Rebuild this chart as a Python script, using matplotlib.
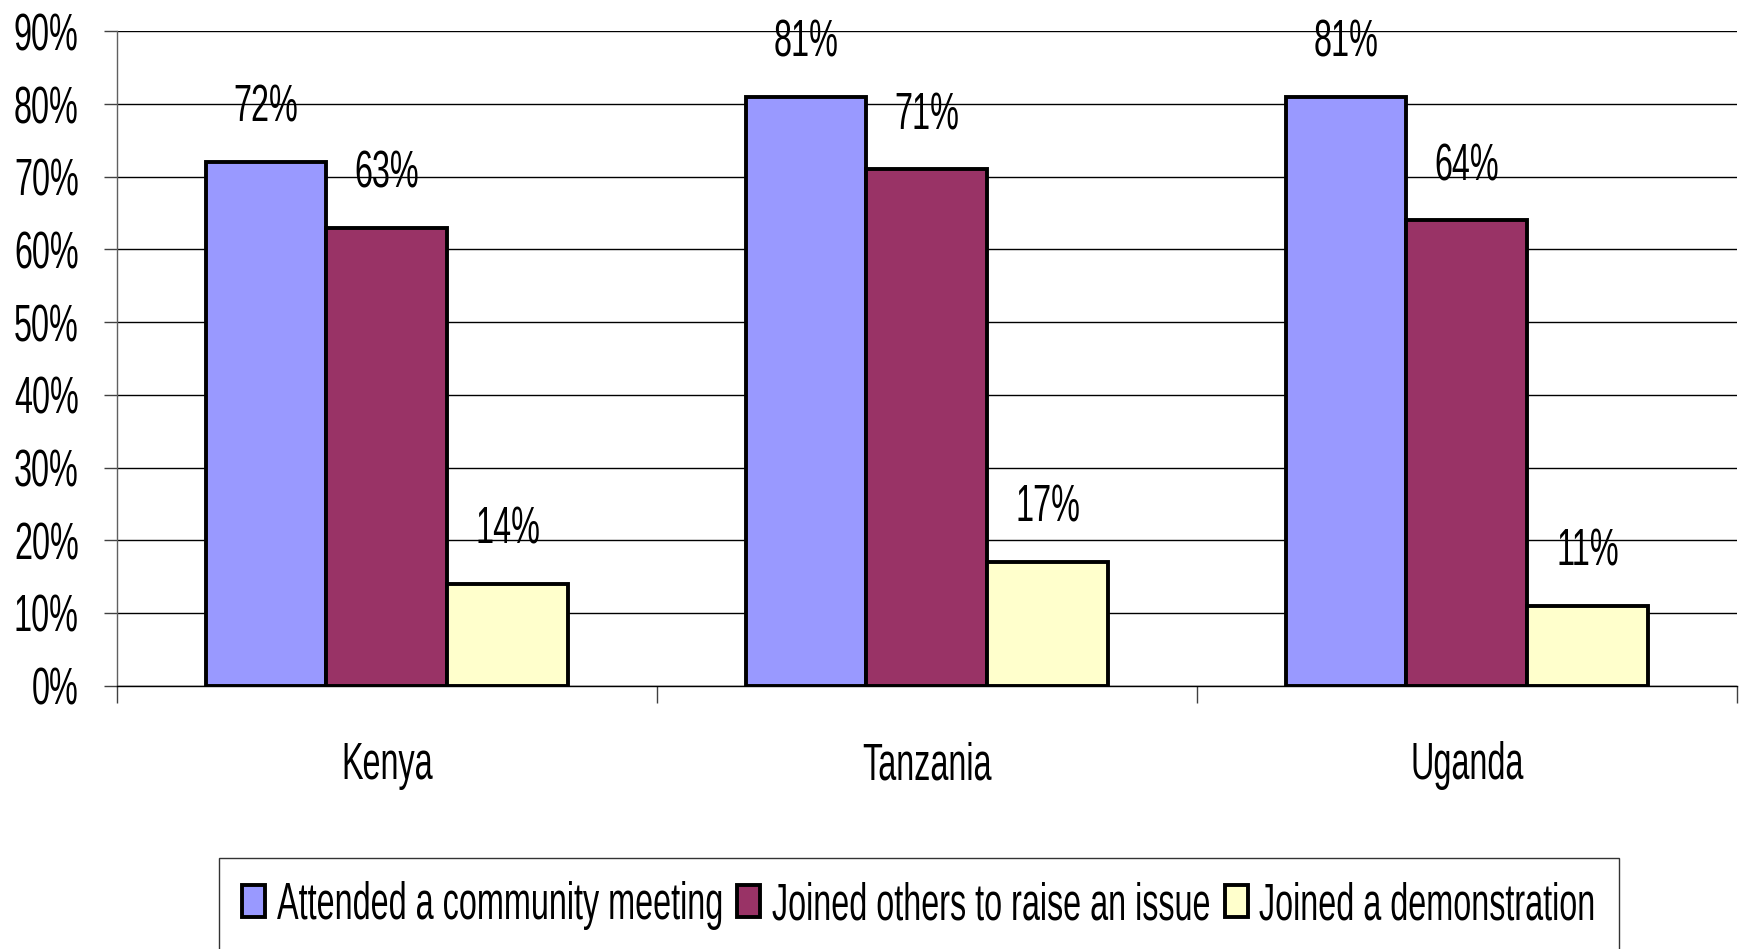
import numpy as np
import matplotlib
matplotlib.use("Agg")
import matplotlib.pyplot as plt
from matplotlib import font_manager
from matplotlib.ticker import FixedLocator, FuncFormatter
from fontTools.ttLib import TTFont

# Share of respondents by country and type of civic action
countries = ["Kenya", "Tanzania", "Uganda"]
series_names = ["Attended a community meeting",
                "Joined others to raise an issue",
                "Joined a demonstration"]
attended = [72, 81, 81]
joined_issue = [63, 71, 64]
demonstration = [14, 17, 11]
bar_colors = ["#9999FF", "#993366", "#FFFFCC"]


def make_narrow_font(squeeze=0.63, family="Liberation Sans Narrowed"):
    """Build a horizontally condensed copy of Liberation Sans and register it."""
    src = font_manager.findfont(font_manager.FontProperties(family="Liberation Sans"))
    f = TTFont(src)
    glyf, hmtx = f["glyf"], f["hmtx"]
    for name in f.getGlyphOrder():
        g = glyf[name]
        if g.isComposite():
            for comp in g.components:
                comp.x = round(comp.x * squeeze)
        elif g.numberOfContours > 0:
            g.coordinates.scale((squeeze, 1))
            g.coordinates.toInt()
        g.recalcBounds(glyf)
        adv, lsb = hmtx[name]
        new_lsb = g.xMin if g.numberOfContours != 0 else round(lsb * squeeze)
        hmtx[name] = (round(adv * squeeze), new_lsb)
    if "kern" in f:
        for sub in f["kern"].kernTables:
            for k in sub.kernTable:
                sub.kernTable[k] = round(sub.kernTable[k] * squeeze)
    names = f["name"]
    for rec in list(names.names):
        if rec.nameID in (1, 16):
            names.setName(family, rec.nameID, rec.platformID, rec.platEncID, rec.langID)
        elif rec.nameID == 4:
            names.setName(family + " Regular", rec.nameID, rec.platformID, rec.platEncID, rec.langID)
        elif rec.nameID == 6:
            names.setName(family.replace(" ", "") + "-Regular", rec.nameID,
                          rec.platformID, rec.platEncID, rec.langID)
    f.save("narrow.ttf")
    font_manager.fontManager.addfont("narrow.ttf")
    return family


plt.rcParams['font.family'] = [make_narrow_font(), 'DejaVu Sans']

fig = plt.figure(figsize=(17.48, 9.49), dpi=100)
ax = fig.add_axes([0.0669, 0.2775, 0.9268, 0.6895])

x = np.arange(len(countries))
width = 0.224
bars = []
for i, (vals, name, col) in enumerate(zip([attended, joined_issue, demonstration],
                                          series_names, bar_colors)):
    b = ax.bar(x + (i - 1) * width, np.array(vals) / 100, width,
               color=col, edgecolor="black", linewidth=2.8, label=name, zorder=3)
    bars.append(b)
    for rect, v in zip(b, vals):
        ax.annotate(f"{v}%", (rect.get_x() + rect.get_width() / 2, v / 100),
                    xytext=(0, 29), textcoords="offset points",
                    ha="center", va="baseline", fontsize=37, zorder=4)

# axes, grid and ticks
ax.set_ylim(0, 0.9)
ax.set_xlim(-0.5, 2.5)
ax.set_yticks(np.arange(0, 0.91, 0.1))
ax.yaxis.set_major_formatter(FuncFormatter(lambda v, p: f"{round(v * 100)}%"))
ax.tick_params(axis="y", length=9.5, width=1, color="#404040", pad=18, labelsize=37)
ax.grid(axis="y", color="black", linewidth=1.0, zorder=0)

ax.xaxis.set_major_locator(FixedLocator([-0.5, 0.5, 1.5, 2.5]))
ax.xaxis.set_major_formatter(FuncFormatter(lambda v, p: ""))
ax.xaxis.set_minor_locator(FixedLocator(x))
ax.set_xticklabels(countries, minor=True)
ax.tick_params(axis="x", which="major", length=12, width=1, color="#404040")
ax.tick_params(axis="x", which="minor", length=0, pad=40, labelsize=37)

for s in ["top", "right"]:
    ax.spines[s].set_visible(False)
ax.spines["left"].set_color("#606060")
ax.spines["left"].set_linewidth(1)
ax.spines["bottom"].set_color("black")
ax.spines["bottom"].set_linewidth(1)

# legend box runs off the bottom edge of the figure
leg = fig.legend(handles=bars, labels=series_names, loc="upper left",
                 bbox_to_anchor=(0.1253, 0.0959), ncol=3, fontsize=37,
                 frameon=True, fancybox=False, edgecolor="black",
                 handlelength=0.45, handleheight=0.6, handletextpad=0.23,
                 columnspacing=0.27, borderpad=0.45, borderaxespad=0)
leg.get_frame().set_linewidth(1)

fig.savefig("out.png", dpi=100)
